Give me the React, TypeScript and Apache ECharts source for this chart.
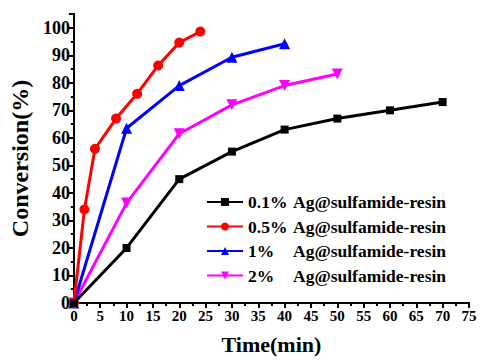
import React, { useEffect, useRef } from "react";
import * as echarts from "echarts";

const seriesNames = [
  "0.1% Ag@sulfamide-resin",
  "0.5% Ag@sulfamide-resin",
  "1% Ag@sulfamide-resin",
  "2% Ag@sulfamide-resin",
];
const colors = ["#000000", "#ff0000", "#0000ff", "#ff00ff"];

const timeA = [0, 10, 20, 30, 40, 50, 60, 70];
const convA = [0, 20, 45, 55, 63, 67, 70, 73];

const timeB = [0, 2, 4, 8, 12, 16, 20, 24];
const convB = [0, 34, 56, 67, 76, 86.3, 94.6, 98.6];

const timeC = [0, 10, 20, 30, 40];
const convC = [0, 63.5, 79, 89.3, 94.2];

const timeD = [0, 10, 20, 30, 40, 50];
const convD = [0, 36.3, 61.5, 72, 79, 83.2];

const xTicks = { min: 0, max: 75, interval: 5 };
const yTicks = { min: 0, max: 105, interval: 10 };

const FONT = "'Liberation Serif', 'Times New Roman', serif";

function pairs(xs: number[], ys: number[]) {
  return xs.map((x, i) => [x, ys[i]]);
}

export default function App() {
  const ref = useRef<HTMLDivElement>(null);
  useEffect(() => {
    if (!ref.current) return;
    const chart = echarts.init(ref.current, undefined, { renderer: "svg" });
    const axisCommon = {
      type: "value" as const,
      axisLine: { show: true, lineStyle: { color: "#000", width: 2 } },
      splitLine: { show: false },
    };
    const symbols = ["rect", "circle", "triangle", "triangle"];
    const sizes = [8, 10, 11, 11];
    const rotates = [0, 0, 0, 180];
    const datas = [
      pairs(timeA, convA),
      pairs(timeB, convB),
      pairs(timeC, convC),
      pairs(timeD, convD),
    ];
    chart.setOption({
      animation: false,
      backgroundColor: "#ffffff",
      grid: { left: 73, right: 12, top: 14, bottom: 57, containLabel: false },
      legend: {
        orient: "vertical",
        left: 201,
        top: 188,
        itemWidth: 36,
        itemHeight: 10,
        itemGap: 6.5,
        data: seriesNames,
        formatter: (name: string) => {
          const i = name.indexOf(" ");
          return `{a|${name.slice(0, i)}}{b|${name.slice(i + 1)}}`;
        },
        textStyle: {
          fontFamily: FONT,
          fontWeight: "bold",
          fontSize: 17.5,
          color: "#000",
          rich: {
            a: { fontFamily: FONT, fontWeight: "bold", fontSize: 17.5, width: 45, lineHeight: 18, color: "#000" },
            b: { fontFamily: FONT, fontWeight: "bold", fontSize: 17.5, lineHeight: 18, color: "#000" },
          },
        },
      },
      xAxis: [
        {
          ...axisCommon,
          position: "bottom",
          min: xTicks.min,
          max: xTicks.max,
          interval: xTicks.interval,
          name: "Time(min)",
          nameLocation: "middle",
          nameGap: 30,
          nameTextStyle: { fontFamily: FONT, fontWeight: "bold", fontSize: 22, color: "#000" },
          axisTick: { show: true, inside: false, length: 5, lineStyle: { color: "#000", width: 2 } },
          minorTick: { show: true, splitNumber: 2, length: 3, lineStyle: { color: "#000", width: 2 } },
          axisLabel: { fontFamily: FONT, fontWeight: "bold", fontSize: 15, color: "#000", margin: 5 },
        },
        {
          ...axisCommon,
          position: "top",
          min: xTicks.min,
          max: xTicks.max,
          interval: xTicks.interval,
          axisTick: { show: true, inside: true, length: 4, lineStyle: { color: "#000", width: 1.5 } },
          minorTick: { show: true, splitNumber: 2, length: 3, lineStyle: { color: "#000", width: 1.5 } },
          axisLabel: { show: false },
        },
      ],
      yAxis: [
        {
          ...axisCommon,
          position: "left",
          min: yTicks.min,
          max: yTicks.max,
          interval: yTicks.interval,
          name: "Conversion(%)",
          nameLocation: "middle",
          nameGap: 41,
          nameTextStyle: { fontFamily: FONT, fontWeight: "bold", fontSize: 24, color: "#000" },
          axisTick: { show: true, inside: false, length: 5, lineStyle: { color: "#000", width: 2 } },
          minorTick: { show: true, splitNumber: 2, length: 3, lineStyle: { color: "#000", width: 2 } },
          axisLabel: {
            fontFamily: FONT,
            fontWeight: "bold",
            fontSize: 18,
            color: "#000",
            margin: 4,
            formatter: (v: number) => (v % 10 === 0 ? String(v) : ""),
          },
        },
        {
          ...axisCommon,
          position: "right",
          min: yTicks.min,
          max: yTicks.max,
          interval: yTicks.interval,
          axisTick: { show: true, inside: true, length: 4, lineStyle: { color: "#000", width: 1.5 } },
          minorTick: { show: true, splitNumber: 2, length: 3, lineStyle: { color: "#000", width: 1.5 } },
          axisLabel: { show: false },
        },
      ],
      series: seriesNames.map((name, i) => ({
        name,
        type: "line",
        xAxisIndex: 0,
        yAxisIndex: 0,
        data: datas[i],
        symbol: symbols[i],
        symbolSize: sizes[i],
        symbolRotate: rotates[i],
        showAllSymbol: true,
        color: colors[i],
        lineStyle: { color: colors[i], width: 3 },
        itemStyle: { color: colors[i] },
        z: 10 - i,
      })),
    });
    return () => chart.dispose();
  }, []);
  return (
    <div
      ref={ref}
      style={{ position: "fixed", left: 0, top: 0, width: 481, height: 360, background: "#fff" }}
    />
  );
}
